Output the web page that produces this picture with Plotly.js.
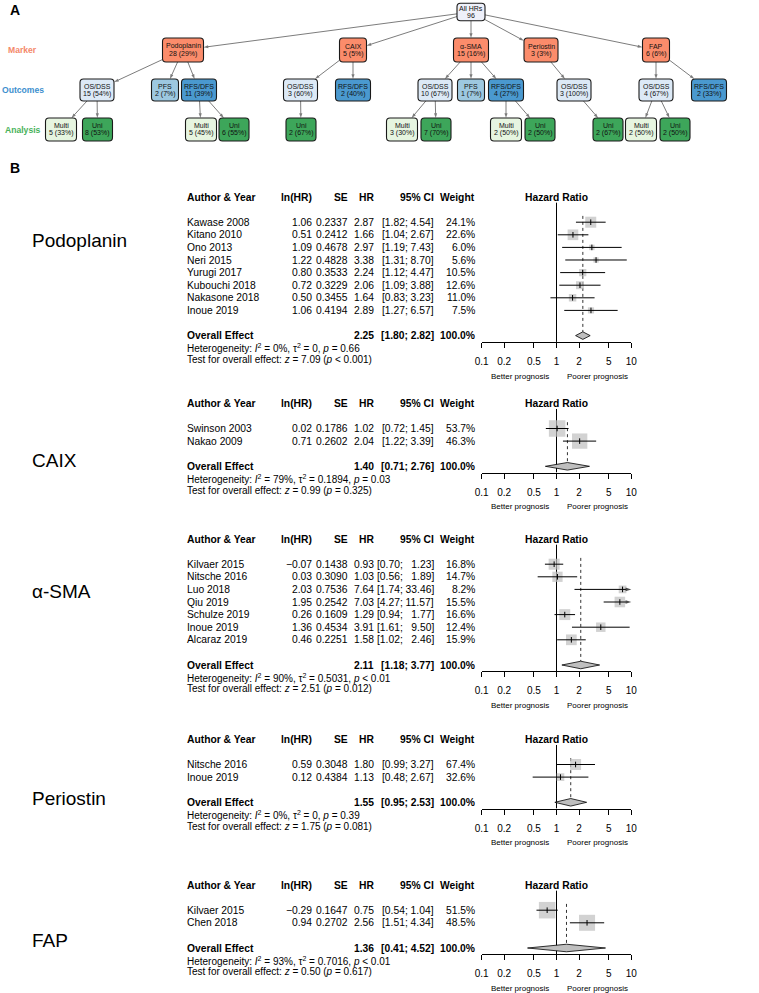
<!DOCTYPE html>
<html><head><meta charset="utf-8">
<script src="https://cdn.plot.ly/plotly-3.0.1.min.js"></script>
<style>html,body{margin:0;padding:0;background:#fff}</style>
</head><body><div id="chart" style="width:759px;height:993px"></div>
<script>
// ================= Panel A: tree data =================
const treeLabels  = ['All HRs','Podoplanin','CAIX','α-SMA','Periostin','FAP',
  'OS/DSS','PFS','RFS/DFS','OS/DSS','RFS/DFS','OS/DSS','PFS','RFS/DFS','OS/DSS','OS/DSS','RFS/DFS',
  'Multi','Uni','Multi','Uni','Uni','Multi','Uni','Multi','Uni','Uni','Multi','Uni'];
const treeCounts  = ['96','28 (29%)','5 (5%)','15 (16%)','3 (3%)','6 (6%)',
  '15 (54%)','2 (7%)','11 (39%)','3 (60%)','2 (40%)','10 (67%)','1 (7%)','4 (27%)','3 (100%)','4 (67%)','2 (33%)',
  '5 (33%)','8 (53%)','5 (45%)','6 (55%)','2 (67%)','3 (30%)','7 (70%)','2 (50%)','2 (50%)','2 (67%)','2 (50%)','2 (50%)'];
const treeParents = [-1,0,0,0,0,0, 1,1,1,2,2,3,3,3,4,5,5, 6,6,8,8,9,11,11,13,13,14,15,15];
const treeLevels  = [0,1,1,1,1,1, 2,2,2,2,2,2,2,2,2,2,2, 3,3,3,3,3,3,3,3,3,3,3,3];
const levelNames  = ['Marker','Outcomes','Analysis'];

// layout (pixel positions / sizes / styles) for the tree
const treeX  = [471,183,353,471,541,656, 97,165,199,300.5,353,435,471,506,574,656,709, 61,97.5,201,234,301,402,436,506,540,608,641,675];
const levelY = [12,50,90,129.5];
const levelH = [17.5,24,22,23];
const nodeW  = {'All HRs':28,'Podoplanin':41,'CAIX':27,'α-SMA':35,'Periostin':34,'FAP':27,
                'OS/DSS':34,'PFS':27,'RFS/DFS':35,'Multi':31,'Uni':30};
const nodeFill = {'All HRs':'#EEF0FA','Podoplanin':'#FB8C6B','CAIX':'#FB8C6B','α-SMA':'#FB8C6B','Periostin':'#FB8C6B','FAP':'#FB8C6B',
                'OS/DSS':'#DCE9F6','PFS':'#9DC8E0','RFS/DFS':'#4A99CF','Multi':'#E6F5E0','Uni':'#3DA65A'};
const levelColors = ['#F4896B','#3D8FCE','#47B25A'];

// ================= Panel B: forest data =================
const groups = ['Podoplanin','CAIX','α-SMA','Periostin','FAP'];

const studiesPodo = ['Kawase 2008','Kitano 2010','Ono 2013','Neri 2015','Yurugi 2017','Kubouchi 2018','Nakasone 2018','Inoue 2019'];
const lnhrPodo = [1.06,0.51,1.09,1.22,0.80,0.72,0.50,1.06];
const sePodo   = [0.2337,0.2412,0.4678,0.4828,0.3533,0.3229,0.3455,0.4194];
const hrPodo   = [2.87,1.66,2.97,3.38,2.24,2.06,1.64,2.89];
const loPodo   = [1.82,1.04,1.19,1.31,1.12,1.09,0.83,1.27];
const hiPodo   = [4.54,2.67,7.43,8.70,4.47,3.88,3.23,6.57];
const wPodo    = [24.1,22.6,6.0,5.6,10.5,12.6,11.0,7.5];

const studiesCaix = ['Swinson 2003','Nakao 2009'];
const lnhrCaix = [0.02,0.71];
const seCaix   = [0.1786,0.2602];
const hrCaix   = [1.02,2.04];
const loCaix   = [0.72,1.22];
const hiCaix   = [1.45,3.39];
const wCaix    = [53.7,46.3];

const studiesSma = ['Kilvaer 2015','Nitsche 2016','Luo 2018','Qiu 2019','Schulze 2019','Inoue 2019','Alcaraz 2019'];
const lnhrSma = [-0.07,0.03,2.03,1.95,0.26,1.36,0.46];
const seSma   = [0.1438,0.3090,0.7536,0.2542,0.1609,0.4534,0.2251];
const hrSma   = [0.93,1.03,7.64,7.03,1.29,3.91,1.58];
const loSma   = [0.70,0.56,1.74,4.27,0.94,1.61,1.02];
const hiSma   = [1.23,1.89,33.46,11.57,1.77,9.50,2.46];
const wSma    = [16.8,14.7,8.2,15.5,16.6,12.4,15.9];

const studiesPeri = ['Nitsche 2016','Inoue 2019'];
const lnhrPeri = [0.59,0.12];
const sePeri   = [0.3048,0.4384];
const hrPeri   = [1.80,1.13];
const loPeri   = [0.99,0.48];
const hiPeri   = [3.27,2.67];
const wPeri    = [67.4,32.6];

const studiesFap = ['Kilvaer 2015','Chen 2018'];
const lnhrFap = [-0.29,0.94];
const seFap   = [0.1647,0.2702];
const hrFap   = [0.75,2.56];
const loFap   = [0.54,1.51];
const hiFap   = [1.04,4.34];
const wFap    = [51.5,48.5];

const overallHR = [2.25,1.40,2.11,1.55,1.36];
const overallLo = [1.80,0.71,1.18,0.95,0.41];
const overallHi = [2.82,2.76,3.77,2.53,4.52];
const hetI2   = ['0%','79%','90%','0%','93%'];
const hetTau2 = ['0','0.1894','0.5031','0','0.7016'];
const hetP    = ['= 0.66','= 0.03','&lt; 0.01','= 0.39','&lt; 0.01'];
const testZ   = ['7.09','0.99','2.51','1.75','0.50'];
const testP   = ['&lt; 0.001','= 0.325','= 0.012','= 0.081','= 0.617'];

const hrTicks = [0.1,0.2,0.5,1,2,5,10];
const hrTickText = ['0.1','0.2','0.5','1','2','5','10'];

// layout values for panel B
const headerY   = [197,403.3,539,739.3,885];
const labelY    = [240,460,591,798,940];
const squareMax = [11,16.5,11,11,16.5];

// ================= build =================
const PX = 759, PY = 993, ROW = 12.6;
const FONT = 'Liberation Sans, Arial, Helvetica, sans-serif';
const data = [], annotations = [], shapes = [];
const layout = {
  width: PX, height: PY, margin:{l:0,r:0,t:0,b:0},
  paper_bgcolor:'#fff', plot_bgcolor:'rgba(0,0,0,0)', showlegend:false,
  font:{family:FONT, color:'#000'},
  xaxis:{domain:[0,1], range:[0,PX], visible:false, fixedrange:true},
  yaxis:{domain:[0,1], range:[PY,0], visible:false, fixedrange:true},
  annotations, shapes
};

function txt(x, y, text, opts){
  const o = Object.assign({x, y, text, xref:'x', yref:'y', showarrow:false, xanchor:'left', yanchor:'middle',
    font:{family:FONT, size:10.3, color:'#000'}}, opts||{});
  annotations.push(o);
}
const it = s => '<span style="font-style:italic;font-size:10px">'+s+'</span>';
function roundRect(x0,y0,x1,y1,r){
  return `M${x0+r},${y0} H${x1-r} Q${x1},${y0} ${x1},${y0+r} V${y1-r} Q${x1},${y1} ${x1-r},${y1} H${x0+r} Q${x0},${y1} ${x0},${y1-r} V${y0+r} Q${x0},${y0} ${x0+r},${y0} Z`;
}
function clip(cx,cy,hw,hh,dx,dy){
  const tx = dx!==0 ? hw/Math.abs(dx) : Infinity;
  const ty = dy!==0 ? hh/Math.abs(dy) : Infinity;
  const t = Math.min(tx,ty);
  return [cx+dx*t, cy+dy*t];
}

// ---- Panel A ----
txt(8, 10, '<b>A</b>', {font:{family:FONT,size:14,color:'#000'}});
levelNames.forEach((n,i)=>{
  txt(22.5, levelY[i+1], '<b>'+n+'</b>', {xanchor:'center', font:{family:FONT,size:8.6,color:levelColors[i]}});
});
const ex = [], ey = [], es = [], esym = [];
treeLabels.forEach((lab,i)=>{
  const lv = treeLevels[i], cx = treeX[i], cy = levelY[lv], w = nodeW[lab], h = levelH[lv];
  shapes.push({type:'path', xref:'x', yref:'y', layer:'above',
    path: roundRect(cx-w/2, cy-h/2, cx+w/2, cy+h/2, 3.5),
    fillcolor: nodeFill[lab], line:{color:'#1a1a1a', width:1.1}});
  txt(cx, cy-3.9, lab, {xanchor:'center', font:{family:FONT,size:7,color:'#111'}});
  txt(cx, cy+3.9, treeCounts[i], {xanchor:'center', font:{family:FONT,size:7,color:'#111'}});
  const p = treeParents[i];
  if (p >= 0){
    const pl = treeLevels[p], px = treeX[p], py = levelY[pl];
    const pw = nodeW[treeLabels[p]], ph = levelH[pl];
    const s = clip(px,py,pw/2,ph/2, cx-px, cy-py);
    const e = clip(cx,cy,w/2,h/2, px-cx, py-cy);
    ex.push(s[0], e[0], null); ey.push(s[1], e[1], null);
    es.push(0, 5, 0); esym.push('circle','arrow','circle');
  }
});
// tree edges (lines with arrow heads)
data.push({type:'scatter', mode:'lines+markers', xaxis:'x', yaxis:'y', x:ex, y:ey, cliponaxis:false,
  line:{color:'#444', width:0.7},
  marker:{symbol:esym, size:es, angleref:'previous', color:'#444', line:{width:0}}, hoverinfo:'skip'});

// ---- Panel B ----
txt(8, 168, '<b>B</b>', {font:{family:FONT,size:14,color:'#000'}});
const panels = [
  {st:studiesPodo, ln:lnhrPodo, se:sePodo, hr:hrPodo, lo:loPodo, hi:hiPodo, w:wPodo},
  {st:studiesCaix, ln:lnhrCaix, se:seCaix, hr:hrCaix, lo:loCaix, hi:hiCaix, w:wCaix},
  {st:studiesSma,  ln:lnhrSma,  se:seSma,  hr:hrSma,  lo:loSma,  hi:hiSma,  w:wSma},
  {st:studiesPeri, ln:lnhrPeri, se:sePeri, hr:hrPeri, lo:loPeri, hi:hiPeri, w:wPeri},
  {st:studiesFap,  ln:lnhrFap,  se:seFap,  hr:hrFap,  lo:loFap,  hi:hiFap,  w:wFap}
];
const fmt = (v,d) => (v<0?'\u2212':'') + Math.abs(v).toFixed(d);
const COL = {name:185, ln:313.5, se:349.5, hr:376, ci:435.5, wt:476.5, hrHead:556.5};
const xDom = [481.7/PX, 631.3/PX];

panels.forEach((P,k)=>{
  const n = k+2, xa = 'x'+n, ya = 'y'+n;
  const S = P.st.length, ovRow = S+3;
  const top = headerY[k] - ROW, bot = headerY[k] + (ovRow+0.5)*ROW;
  const rowPx = r => headerY[k] + r*ROW;
  layout['yaxis'+n] = {domain:[1-bot/PY, 1-top/PY], range:[ovRow+0.5,-1], visible:false, fixedrange:true};
  layout['xaxis'+n] = {domain:xDom, type:'log', range:[-1,1], anchor:ya, fixedrange:true,
    tickvals:hrTicks, ticktext:hrTickText, ticks:'outside', ticklen:5, tickwidth:1, tickcolor:'#000',
    showline:true, linecolor:'#000', linewidth:1, showgrid:false, zeroline:false,
    ticklabelstandoff:5, tickfont:{family:FONT,size:10,color:'#000'}};
  const rows = P.st.map((_,j)=>2+j);
  const maxW = Math.max(...P.w);
  // reference line at HR = 1
  data.push({type:'scatter', mode:'lines', xaxis:xa, yaxis:ya, x:[1,1], y:[0.45, ovRow+0.5],
    line:{color:'#000', width:1}, hoverinfo:'skip'});
  // dotted line at overall HR
  data.push({type:'scatter', mode:'lines', xaxis:xa, yaxis:ya, x:[overallHR[k],overallHR[k]], y:[1.5, ovRow-0.3],
    line:{color:'#333', width:1, dash:'dot'}, hoverinfo:'skip'});
  // squares
  data.push({type:'scatter', mode:'markers', xaxis:xa, yaxis:ya, x:P.hr, y:rows, cliponaxis:false,
    marker:{symbol:'square', color:'#BFBFBF', size:P.w.map(v=>squareMax[k]*Math.sqrt(v/maxW)), line:{width:0}}, hoverinfo:'skip'});
  // CI lines (arrow head where the interval runs past 10)
  const cx = [], cy = [], cs = [], csym = [];
  P.lo.forEach((lo,j)=>{
    const cut = P.hi[j] > 10;
    cx.push(lo, Math.min(P.hi[j],10), null); cy.push(rows[j], rows[j], null);
    cs.push(0, cut ? 6 : 0, 0); csym.push('circle', cut ? 'arrow' : 'circle', 'circle');
  });
  data.push({type:'scatter', mode:'lines+markers', xaxis:xa, yaxis:ya, x:cx, y:cy, cliponaxis:false,
    line:{color:'#000', width:1},
    marker:{symbol:csym, size:cs, angleref:'previous', color:'#000', line:{width:0}}, hoverinfo:'skip'});
  // point estimate ticks
  data.push({type:'scatter', mode:'markers', xaxis:xa, yaxis:ya, x:P.hr, y:rows, cliponaxis:false,
    marker:{symbol:'line-ns-open', size:4, color:'#000', line:{width:1, color:'#000'}}, hoverinfo:'skip'});
  // diamond
  data.push({type:'scatter', mode:'lines', xaxis:xa, yaxis:ya, fill:'toself', fillcolor:'#BFBFBF',
    x:[overallLo[k], overallHR[k], overallHi[k], overallHR[k], overallLo[k]],
    y:[ovRow, ovRow-0.3, ovRow, ovRow+0.3, ovRow], line:{color:'#000', width:0.8}, hoverinfo:'skip'});

  // texts
  const T = (x,r,t,anchor,extra) => txt(x, r, t, Object.assign({yref:ya, xanchor:anchor}, extra||{}));
  T(COL.name,0,'<b>Author & Year</b>','left');
  T(COL.ln,0,'<b>ln(HR)</b>','right');
  T(COL.se,0,'<b>SE</b>','right');
  T(COL.hr,0,'<b>HR</b>','right');
  T(COL.ci,0,'<b>95% CI</b>','right');
  T(COL.wt,0,'<b>Weight</b>','right');
  T(COL.hrHead,0,'<b>Hazard Ratio</b>','center');
  const wide = P.hi.some(v=>v>=10);
  P.st.forEach((s,j)=>{
    const r = rows[j];
    T(COL.name,r,s,'left');
    T(COL.ln,r,fmt(P.ln[j],2),'right');
    T(COL.se,r,P.se[j].toFixed(4),'right');
    T(COL.hr,r,P.hr[j].toFixed(2),'right');
    const pad = (wide && P.hi[j] < 10) ? ' \u00A0\u00A0' : ' ';
    T(COL.ci,r,'['+P.lo[j].toFixed(2)+';'+pad+P.hi[j].toFixed(2)+']','right');
    T(COL.wt,r,P.w[j].toFixed(1)+'%','right');
  });
  T(COL.name,ovRow,'<b>Overall Effect</b>','left');
  T(COL.hr,ovRow,'<b>'+overallHR[k].toFixed(2)+'</b>','right');
  T(COL.ci,ovRow,'<b>['+overallLo[k].toFixed(2)+'; '+overallHi[k].toFixed(2)+']</b>','right');
  T(COL.wt,ovRow,'<b>100.0%</b>','right');
  // rows below the axis line: placed in pixel space (outside the panel's y range)
  txt(COL.name, rowPx(ovRow+1.0), 'Heterogeneity: '+it('I')+'<sup>2</sup> = '+hetI2[k]+', τ<sup>2</sup> = '+hetTau2[k]+', '+it('p')+' '+hetP[k],
    {font:{family:FONT,size:10,color:'#000'}});
  txt(COL.name, rowPx(ovRow+1.9), 'Test for overall effect: '+it('z')+' = '+testZ[k]+' ('+it('p')+' '+testP[k]+')',
    {font:{family:FONT,size:10,color:'#000'}});
  txt(520, rowPx(ovRow+3.22), 'Better prognosis', {xanchor:'center', font:{family:FONT,size:8,color:'#000'}});
  txt(597, rowPx(ovRow+3.22), 'Poorer prognosis', {xanchor:'center', font:{family:FONT,size:8,color:'#000'}});
  // group label
  txt(30, labelY[k], groups[k], {font:{family:FONT,size:19,color:'#000'}});
});

Plotly.newPlot('chart', data, layout, {displayModeBar:false, staticPlot:true});
</script></body></html>
